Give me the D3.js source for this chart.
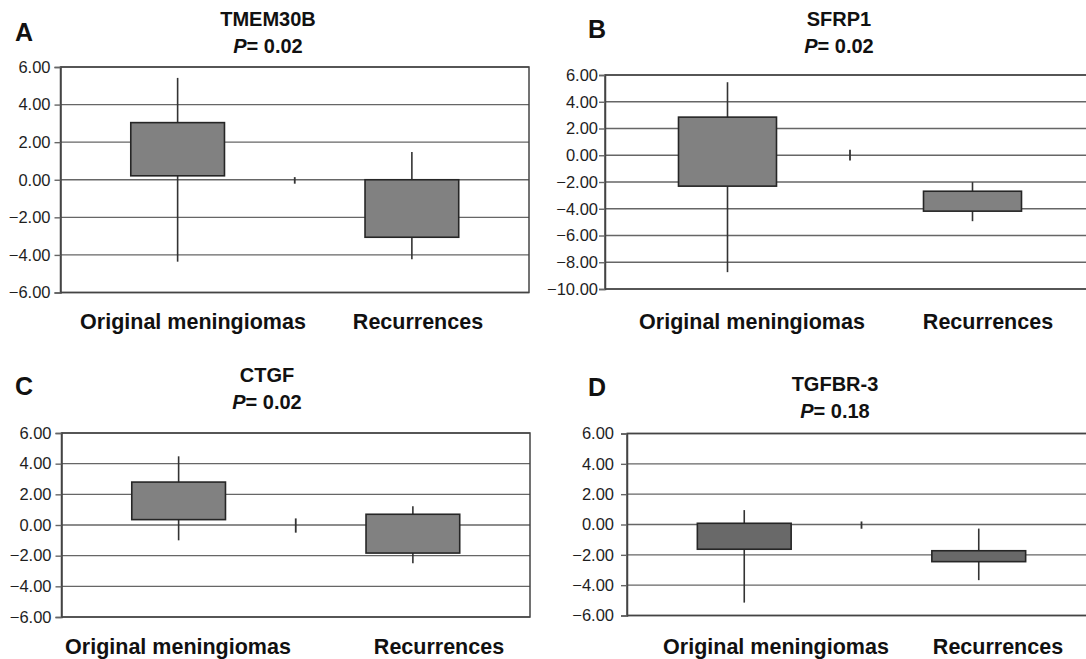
<!DOCTYPE html>
<html>
<head>
<meta charset="utf-8">
<script src="https://cdn.jsdelivr.net/npm/d3@7"></script>
<style>
  body { margin: 0; background: #fff; }
  text { font-family: Arial, "Liberation Sans", Helvetica, sans-serif; }
</style>
</head>
<body>
<div id="canvas"></div>
<script>
// Chart values
var panelLetters = ["A", "B", "C", "D"];
var genes = ["TMEM30B", "SFRP1", "CTGF", "TGFBR-3"];
var pValues = ["0.02", "0.02", "0.02", "0.18"];
var groups = ["Original meningiomas", "Recurrences"];
var yTicks = [
    [6, 4, 2, 0, -2, -4, -6],
    [6, 4, 2, 0, -2, -4, -6, -8, -10],
    [6, 4, 2, 0, -2, -4, -6],
    [6, 4, 2, 0, -2, -4, -6]
];
// per gene: [original, recurrences]
var boxTop = [[3.04, 0.0], [2.85, -2.69], [2.8, 0.7], [0.08, -1.73]];
var boxBottom = [[0.21, -3.06], [-2.31, -4.18], [0.35, -1.83], [-1.63, -2.45]];
var whiskerTop = [[5.42, 1.48], [5.46, -2.01], [4.48, 1.23], [0.95, -0.27]];
var whiskerBottom = [[-4.36, -4.23], [-8.74, -4.93], [-1.0, -2.5], [-5.15, -3.67]];
// small mark between the two groups: [low, high]
var midTick = [[-0.21, 0.14], [-0.39, 0.41], [-0.5, 0.43], [-0.28, 0.2]];

// Panel placement on the page
var layout = [
    {left: 60.5, right: 529, top: 67, bottom: 292.5, titleX: 268, titleY: 26, pY: 53, letterX: 15, letterY: 41, labelY: 329, labelX: [193, 418], pad: 4, fill: "#818181"},
    {left: 605, right: 1095, top: 75, bottom: 289, titleX: 839, titleY: 26, pY: 53, letterX: 588, letterY: 38, labelY: 329, labelX: [752, 988], pad: 1, fill: "#818181"},
    {left: 61.5, right: 530, top: 433, bottom: 617, titleX: 267, titleY: 382, pY: 409, letterX: 15, letterY: 395, labelY: 654, labelX: [178, 439], pad: 4, fill: "#818181"},
    {left: 627, right: 1096, top: 433.5, bottom: 615.5, titleX: 835, titleY: 391, pY: 418, letterX: 588, letterY: 396, labelY: 654, labelX: [776, 998], pad: 7, fill: "#696969"}
];

var w = 1086, h = 659;

var svg = d3.select("#canvas")
    .append("svg")
    .attr("width", w)
    .attr("height", h);

layout.forEach(function(L, i) {
    var g = svg.append("g");

    var y = d3.scaleLinear()
        .domain([d3.min(yTicks[i]), d3.max(yTicks[i])])
        .range([L.bottom, L.top]);

    var x = d3.scalePoint()
        .domain(["g0", "mid", "g1"])
        .range([L.left, L.right])
        .padding(1);

    var boxW = x.step() * 0.8;

    // gridlines
    g.selectAll(".grid")
        .data(yTicks[i])
        .join("line")
        .attr("x1", L.left)
        .attr("x2", L.right)
        .attr("y1", d => y(d))
        .attr("y2", d => y(d))
        .attr("stroke", "#666")
        .attr("stroke-width", 1.4);

    // frame
    g.append("rect")
        .attr("x", L.left)
        .attr("y", L.top)
        .attr("width", L.right - L.left)
        .attr("height", L.bottom - L.top)
        .attr("fill", "none")
        .attr("stroke", "#444")
        .attr("stroke-width", 1.5);

    // y axis
    var axis = g.append("g")
        .attr("transform", `translate(${L.left},0)`)
        .call(d3.axisLeft(y)
            .tickValues(yTicks[i])
            .tickFormat(d3.format(".2f"))
            .tickSize(6)
            .tickPadding(L.pad));
    axis.select(".domain").attr("stroke", "#444").attr("stroke-width", 1.5);
    axis.selectAll(".tick line").attr("stroke", "#666").attr("stroke-width", 1.4);
    axis.selectAll(".tick text")
        .attr("fill", "#1e1e1e")
        .style("font-size", "16.5px")
        .style("font-family", "Arial, 'Liberation Sans', sans-serif");

    var keys = ["g0", "g1"];

    // whiskers
    g.selectAll(".whisker")
        .data(keys)
        .join("line")
        .attr("x1", d => x(d))
        .attr("x2", d => x(d))
        .attr("y1", (d, j) => y(whiskerTop[i][j]))
        .attr("y2", (d, j) => y(whiskerBottom[i][j]))
        .attr("stroke", "#333")
        .attr("stroke-width", 1.6);

    // boxes
    g.selectAll(".box")
        .data(keys)
        .join("rect")
        .attr("x", d => x(d) - boxW / 2)
        .attr("width", boxW)
        .attr("y", (d, j) => y(boxTop[i][j]))
        .attr("height", (d, j) => y(boxBottom[i][j]) - y(boxTop[i][j]))
        .attr("fill", L.fill)
        .attr("stroke", "#262626")
        .attr("stroke-width", 1.6);

    // middle mark
    g.append("line")
        .attr("x1", x("mid"))
        .attr("x2", x("mid"))
        .attr("y1", y(midTick[i][0]))
        .attr("y2", y(midTick[i][1]))
        .attr("stroke", "#333")
        .attr("stroke-width", 1.8);

    // panel letter
    g.append("text")
        .attr("x", L.letterX)
        .attr("y", L.letterY)
        .style("font-size", "25px")
        .style("font-weight", "bold")
        .attr("fill", "#111")
        .text(panelLetters[i]);

    // gene name
    g.append("text")
        .attr("x", L.titleX)
        .attr("y", L.titleY)
        .attr("text-anchor", "middle")
        .style("font-size", "20px")
        .style("font-weight", "bold")
        .attr("fill", "#111")
        .text(genes[i]);

    // P value
    var p = g.append("text")
        .attr("x", L.titleX)
        .attr("y", L.pY)
        .attr("text-anchor", "middle")
        .style("font-size", "20px")
        .style("font-weight", "bold")
        .attr("fill", "#111");
    p.append("tspan").style("font-style", "italic").text("P");
    p.append("tspan").text("= " + pValues[i]);

    // group labels
    g.selectAll(".grp")
        .data(groups)
        .join("text")
        .attr("x", (d, j) => L.labelX[j])
        .attr("y", L.labelY)
        .attr("text-anchor", "middle")
        .style("font-size", "21.5px")
        .style("font-weight", "bold")
        .attr("fill", "#111")
        .text(d => d);
});
</script>
</body>
</html>
